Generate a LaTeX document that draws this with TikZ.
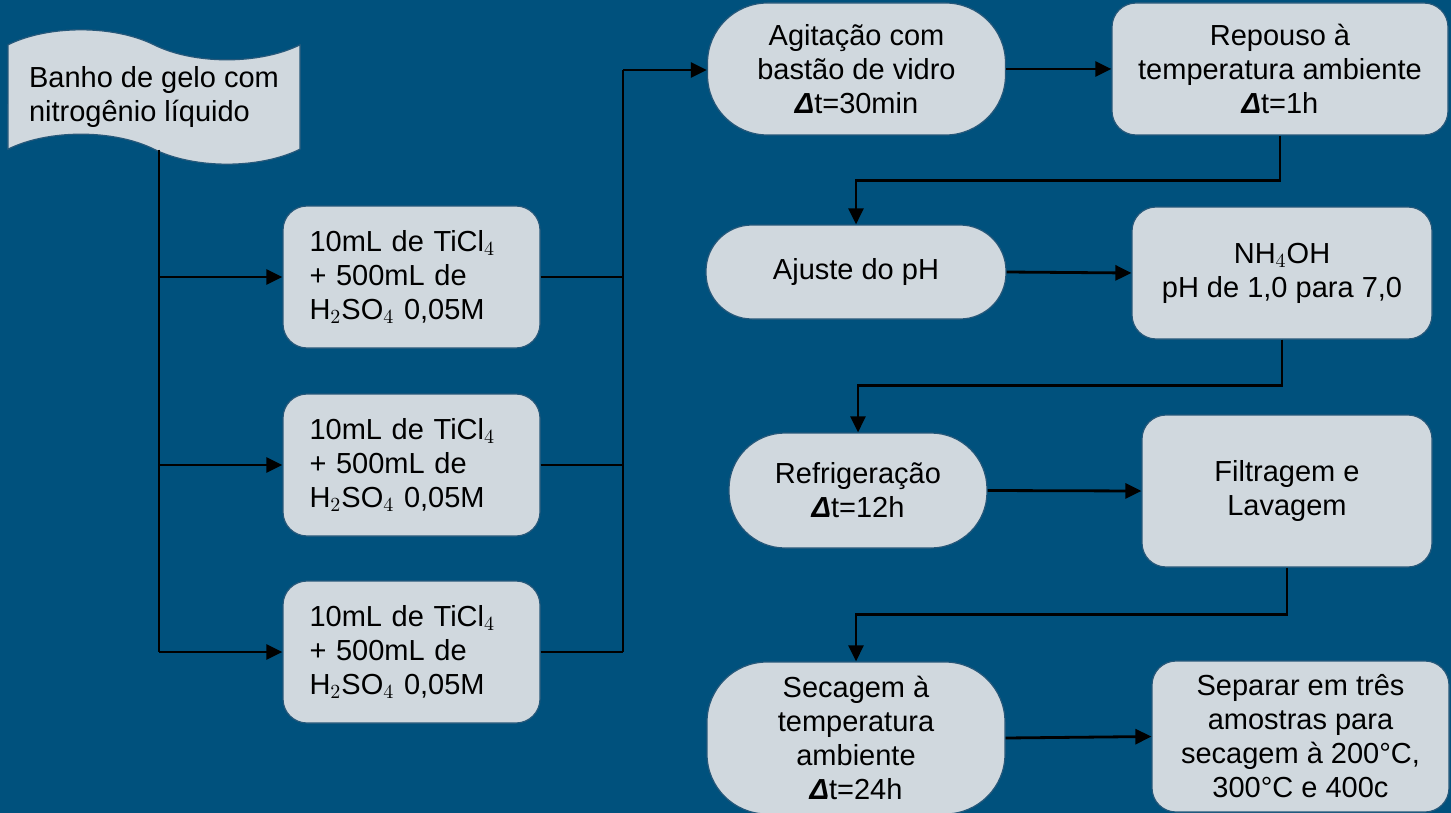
\documentclass[tikz,border=0pt]{standalone}
\usepackage{fontspec}
\setmainfont{Liberation Sans}
\usetikzlibrary{shapes.symbols, arrows.meta}

\definecolor{bgblue}{RGB}{0,81,125}
\definecolor{boxgrey}{RGB}{208,216,222}
\definecolor{boxline}{RGB}{38,88,122}

% bold italic delta for the time steps
\newcommand{\deltat}{\textbf{\textit{Δ}}t}

\begin{document}
\begin{tikzpicture}[x=0.5pt, y=-0.5pt,
    every node/.style={font=\fontsize{14.5}{17}\selectfont},
    stepbox/.style={rectangle, rounded corners=12pt, draw=boxline, line width=0.6pt, fill=boxgrey, align=center, inner sep=4pt},
    pill/.style={stepbox, rounded corners=#1},
    link/.style={line width=1.4pt},
    flow/.style={link, -{Triangle[length=8pt, width=7.5pt]}}]

    % Background and page size
    \fill[bgblue] (0,0) rectangle (1451,813);
    \useasboundingbox (0,0) rectangle (1451,813);

    % Ice bath (tape shape)
    \node[tape, draw=boxline, line width=0.6pt, fill=boxgrey, tape bend top=out and in, tape bend bottom=out and in, tape bend height=15pt,
          minimum width=146pt, minimum height=38pt, align=left] (band) at (154,97) {Banho de gelo com\\nitrogênio líquido};

    % The three solutions
    \foreach \i/\y in {1/277, 2/465, 3/652} {
        \node[stepbox, minimum width=128.5pt, minimum height=71pt, text width=102pt, align=left, inner xsep=13pt] (mix\i) at (411.5,\y) {10mL de TiCl$_4$\\+ 500mL de\\H$_2$SO$_4$ 0,05M};
    }

    % Process steps
    \node[pill=30pt, minimum width=149pt, minimum height=66pt] (agit) at (856.5,69) {Agitação com\\bastão de vidro\\\deltat=30min};
    \node[stepbox, minimum width=168pt, minimum height=66pt] (repouso) at (1280,69) {Repouso à\\temperatura ambiente\\\deltat=1h};
    \node[pill=23pt, minimum width=150pt, minimum height=47pt] (ajuste) at (856,272) {Ajuste do pH};
    \node[stepbox, minimum width=150pt, minimum height=66pt] (nh4oh) at (1282,273) {NH$_4$OH\\pH de 1,0 para 7,0};
    \node[pill=28pt, minimum width=129pt, minimum height=57.5pt] (refrig) at (858,490.5) {Refrigeração\\\deltat=12h};
    \node[stepbox, minimum width=145pt, minimum height=76pt] (filtr) at (1287,491) {Filtragem e\\Lavagem};
    \node[pill=30pt, minimum width=149pt, minimum height=76pt] (secagem) at (856,738) {Secagem à\\temperatura\\ambiente\\\deltat=24h};
    \node[stepbox, minimum width=148.5pt, minimum height=75.5pt] (separar) at (1300.5,736.5) {Separar em três\\amostras para\\secagem à 200°C,\\300°C e 400c};

    % Trunk from the ice bath to the solutions
    \coordinate (trunk) at (159,652);
    \draw[link] (band.south -| trunk) -- (trunk);
    \foreach \i in {1,2,3} {
        \draw[flow] (mix\i.west -| trunk) -- (mix\i.west);
    }

    % Collecting bus to the stirring step
    \coordinate (bus) at (623,70);
    \foreach \i in {1,2,3} {
        \draw[link] (mix\i.east) -- (mix\i.east -| bus);
    }
    \draw[link] (mix3.east -| bus) -- (bus);
    \draw[flow] (bus) -- (agit.west |- bus);

    % Chain of steps
    \draw[flow] (agit) -- (repouso);
    \draw[flow] (repouso.south) -- ++(0,45) -| (ajuste.north);
    \draw[flow] (ajuste.east) -- (nh4oh.west);
    \draw[flow] (nh4oh.south) -- ++(0,46) -| (refrig.north);
    \draw[flow] (refrig.east) -- (filtr.west);
    \draw[flow] (filtr.south) -- ++(0,47) -| (secagem.north);
    \draw[flow] (secagem.east) -- (separar.west);

\end{tikzpicture}
\end{document}
